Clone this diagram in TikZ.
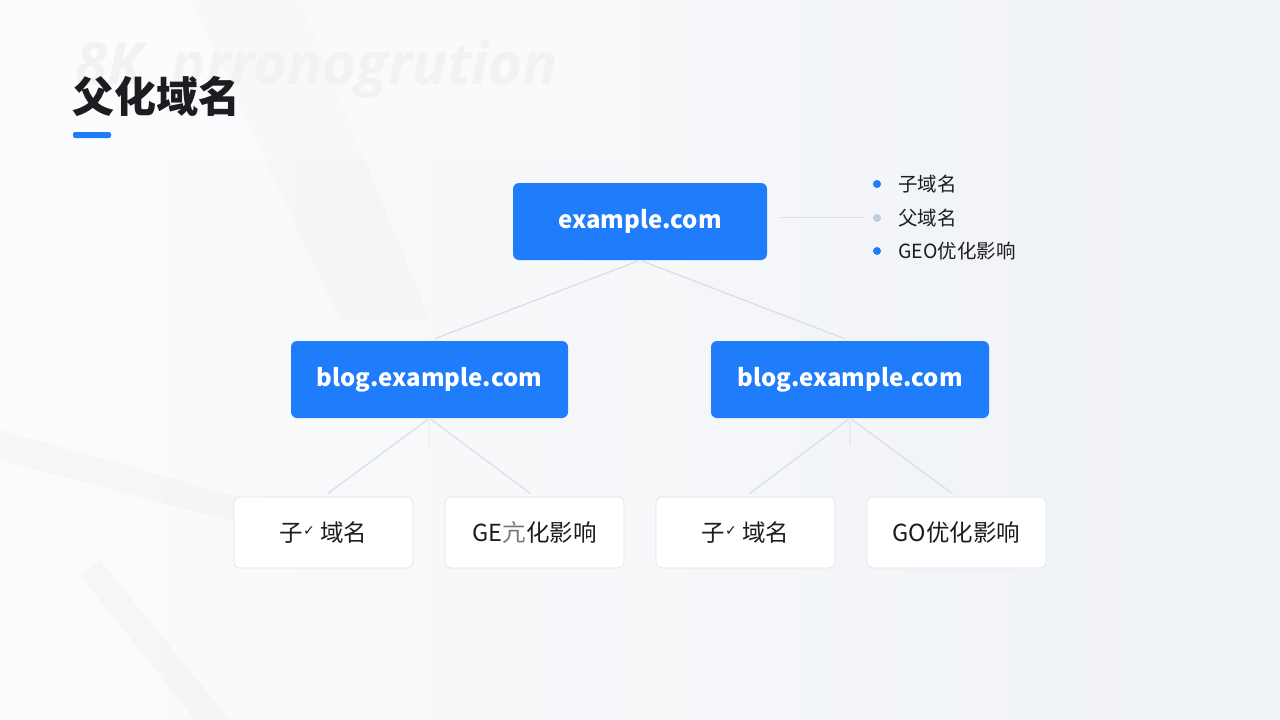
\documentclass[tikz,border=0pt]{standalone}
\usepackage{fontspec}
\usepackage{graphicx}
\setmainfont{Noto Sans CJK SC}
\newfontfamily\dejavu{DejaVu Sans}
\newfontfamily\ghostfont{Open Sans}
\definecolor{nblue}{HTML}{1F7CFB}
\definecolor{bgcol}{HTML}{EFF2F6}
\definecolor{conncol}{HTML}{DADDE3}
\definecolor{txtdark}{HTML}{1B1D21}
\definecolor{dotgray}{HTML}{BCCBE0}
\definecolor{leafborder}{HTML}{E1E4EA}
\newcommand{\glitchmark}{{\dejavu\raisebox{0.45ex}{\scalebox{0.6}{✓}}}}
\begin{document}
\begin{tikzpicture}[x=1pt,y=-1pt,
  bluebox/.style={fill=nblue, rounded corners=6pt, minimum height=77pt, inner sep=0pt,
    text=white, font=\fontsize{24}{28}\selectfont\bfseries},
  leafbox/.style={fill=white, draw=leafborder, line width=0.8pt, rounded corners=6pt,
    minimum width=179pt, minimum height=71pt, inner sep=0pt, text=txtdark,
    font=\fontsize{23.5}{27}\selectfont},
  conn/.style={draw=conncol, line width=1.2pt},
  legtext/.style={anchor=west, inner sep=0pt, text=txtdark, font=\fontsize{19.5}{22}\selectfont},
  legdot/.style={circle, inner sep=0pt, minimum size=8pt}]
% background
\shade[left color=white!75!bgcol, right color=bgcol] (0,0) rectangle (1280,720);
\useasboundingbox (0,0) rectangle (1280,720);
\fill[black, opacity=0.02] (0,430) -- (320,520) -- (320,545) -- (0,460) -- cycle;
\fill[black, opacity=0.02] (100,560) -- (230,720) -- (195,720) -- (80,575) -- cycle;
\fill[black, opacity=0.015] (190,0) -- (300,0) -- (430,320) -- (340,320) -- cycle;
\fill[white, opacity=0.3] (0,0) rectangle (640,160);
% ghost text
\node[anchor=base west, inner sep=0pt, text=black!5, font=\ghostfont\fontsize{58}{62}\selectfont\bfseries\itshape] (ghost) at (75,84) {8K\hspace{0.5em}prronogrution};
% title
\node[anchor=west, inner sep=0pt, text=txtdark, font=\fontsize{42}{46}\selectfont\bfseries] (title) at (72,96) {父化域名};
\fill[nblue, rounded corners=2pt] (73,132) rectangle (111,138);
% nodes
\node[bluebox, minimum width=254pt] (root) at (640,221.5) {example.com};
\node[bluebox, minimum width=277pt] (midL) at (429.5,379.5) {blog.example.com};
\node[bluebox, minimum width=278pt] (midR) at (850,379.5) {blog.example.com};
\node[leafbox] (l1) at (323.5,532.5) {子\glitchmark\ 域名};
\node[leafbox] (l2) at (534.5,532.5) {GE{\color{txtdark!60}亢}化影响};
\node[leafbox] (l3) at (745.5,532.5) {子\glitchmark\ 域名};
\node[leafbox] (l4) at (956.5,532.5) {GO优化影响};
% connectors
\draw[conn, shorten <=2pt, shorten >=6pt] (root.south) -- (midL.north);
\draw[conn, shorten <=2pt, shorten >=6pt] (root.south) -- (midR.north);
\draw[conn, shorten <=2pt, shorten >=5pt] (midL.south) -- (l1.north);
\draw[conn, shorten <=2pt, shorten >=5pt] (midL.south) -- (l2.north);
\draw[conn, shorten <=2pt, shorten >=5pt] (midR.south) -- (l3.north);
\draw[conn, shorten <=2pt, shorten >=5pt] (midR.south) -- (l4.north);
\coordinate (vL) at (429.5,445);
\coordinate (vR) at (850,445);
\draw[conn, opacity=0.4, shorten <=2pt] (midL.south) -- (vL);
\draw[conn, opacity=0.4, shorten <=2pt] (midR.south) -- (vR);
% legend
\node[legdot, fill=nblue] (d1) at (877,184) {};
\node[legdot, fill=dotgray] (d2) at (877,218) {};
\node[legdot, fill=nblue] (d3) at (877,251) {};
\node[legtext] (t1) at (898,184) {子域名};
\node[legtext] (t2) at (898,218) {父域名};
\node[legtext] (t3) at (898,251) {GEO优化影响};
\coordinate (rootR) at (780,217);
\draw[conn, line width=0.8pt, shorten >=8pt] (rootR) -- (d2.west |- rootR);
\end{tikzpicture}
\end{document}
